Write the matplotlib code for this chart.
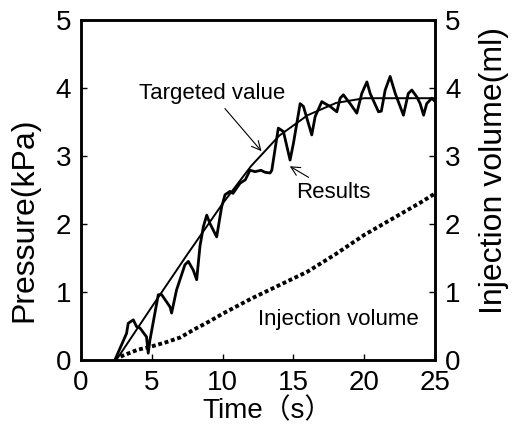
import matplotlib
matplotlib.use("Agg")
import matplotlib.pyplot as plt

plt.rcParams['font.family'] = ['Liberation Sans', 'Noto Sans CJK JP', 'DejaVu Sans']

# Targeted pressure curve (kPa)
t_target = [2.5, 5, 7.5, 10, 12, 14, 16, 18, 20, 25]
p_target = [0, 0.78, 1.55, 2.3, 2.85, 3.3, 3.6, 3.78, 3.85, 3.85]

# Measured pressure (kPa)
t_result = [2.4, 3.22, 3.34, 3.7, 3.93, 4.17, 4.63, 4.75, 4.87, 5.46, 5.7, 6.29, 6.4,
            6.75, 7.34, 7.58, 7.93, 8.17, 8.4, 8.64, 8.88, 9.1, 9.58, 9.93, 10.17,
            10.52, 10.73, 11.23, 11.6, 11.93, 12.3, 12.7, 13.0, 13.35, 13.47, 13.93,
            14.29, 14.76, 15.0, 15.47, 15.7, 16.29, 16.53, 17.0, 17.23, 17.58, 18.06,
            18.29, 18.52, 19.0, 19.47, 19.82, 20.18, 20.41, 21.0, 21.2, 21.47, 21.82,
            22.18, 22.76, 23.1, 23.35, 23.7, 23.94, 24.18, 24.4, 24.76, 25.0]
p_result = [0, 0.39, 0.54, 0.59, 0.49, 0.47, 0.34, 0.1, 0.29, 0.96, 0.96, 0.78, 0.69,
            1.03, 1.4, 1.45, 1.32, 1.18, 1.67, 1.96, 2.13, 2.01, 1.81, 2.25, 2.43,
            2.48, 2.45, 2.6, 2.65, 2.79, 2.77, 2.79, 2.76, 2.75, 2.79, 3.41,
            3.36, 2.94, 3.19, 3.77, 3.73, 3.31, 3.58, 3.8, 3.77, 3.73, 3.65,
            3.85, 3.9, 3.77, 3.63, 3.92, 4.09, 3.92, 3.65, 3.66, 3.97, 4.17,
            3.92, 3.6, 3.92, 3.97, 3.87, 3.77, 3.6, 3.77, 3.85, 3.8]

# Injection volume (ml)
t_inj = [2.8, 4, 5, 6, 7, 8, 9, 10, 11, 12, 13, 14, 15, 16, 17, 18, 19, 20, 21, 22, 23, 24, 25]
v_inj = [0.05, 0.15, 0.2, 0.26, 0.33, 0.45, 0.56, 0.68, 0.79, 0.9, 1.0, 1.1, 1.2, 1.3,
         1.43, 1.56, 1.7, 1.84, 1.96, 2.08, 2.2, 2.32, 2.45]

fig = plt.figure(figsize=(5.12, 4.26), dpi=100)
ax = fig.add_axes([0.158, 0.155, 0.692, 0.798])
ax2 = ax.twinx()

ax.plot(t_target, p_target, color='black', lw=1.4)
ax.plot(t_result, p_result, color='black', lw=2.0, solid_joinstyle='round')
ax2.plot(t_inj, v_inj, color='black', lw=2.8, linestyle=(0, (1.0, 0.7)))

for a in (ax, ax2):
    a.set_xlim(0, 25)
    a.set_ylim(0, 5)
    for s in a.spines.values():
        s.set_linewidth(1.8)

ax.set_xticks([0, 5, 10, 15, 20, 25])
ax.set_yticks([0, 1, 2, 3, 4, 5])
ax2.set_yticks([0, 1, 2, 3, 4, 5])
ax.tick_params(axis='both', direction='in', length=4, width=1, labelsize=20, pad=7)
ax2.tick_params(axis='y', direction='in', length=4, width=1, labelsize=20, pad=7)

ax.annotate('Targeted value', xy=(12.87, 3.04), xytext=(9.23, 3.77),
            fontsize=16, ha='center', va='bottom',
            arrowprops=dict(arrowstyle='->', color='black', lw=0.8))
ax.annotate('Results', xy=(14.57, 2.87), xytext=(15.2, 2.47),
            fontsize=16, ha='left', va='center',
            arrowprops=dict(arrowstyle='->', color='black', lw=0.8))
ax.text(18.15, 0.59, 'Injection volume', fontsize=16, ha='center', va='center')

fig.text(24 / 512, 1 - 220 / 426, 'Pressure(kPa)', rotation=90, ha='center', va='center', fontsize=23)
fig.text(494 / 512, 1 - 170 / 426, 'Injection volume(ml)', rotation=90, ha='center', va='center', fontsize=23)
fig.text(267 / 512, 1 - 424 / 426, 'Time（s）', ha='center', va='bottom', fontsize=20)

fig.savefig('out.png', dpi=100)
